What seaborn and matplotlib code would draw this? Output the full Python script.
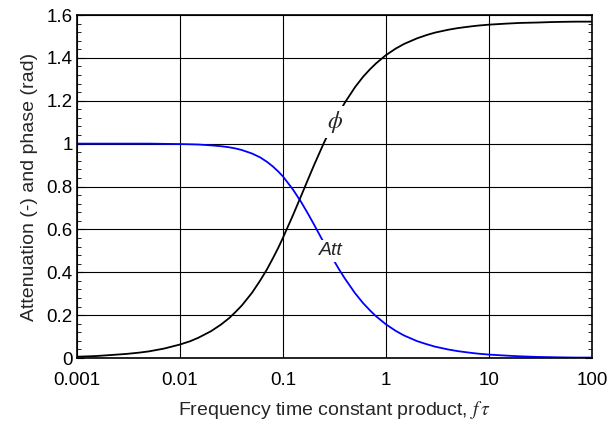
import numpy as np
import pandas as pd
import matplotlib
matplotlib.use('Agg')
import matplotlib.pyplot as plt
import seaborn as sns
from matplotlib.ticker import FixedLocator, MultipleLocator, NullLocator

# values
ftau = [0.001, 0.0015, 0.002, 0.003, 0.004, 0.005, 0.007,
        0.01, 0.0125, 0.015, 0.02, 0.025, 0.03, 0.035, 0.04, 0.05, 0.06, 0.07, 0.08, 0.09,
        0.1, 0.125, 0.15, 0.175, 0.2, 0.25, 0.3, 0.35, 0.4, 0.5, 0.6, 0.7, 0.8,
        1, 1.25, 1.5, 2, 2.5, 3, 4, 5, 6, 7, 8,
        10, 15, 20, 30, 40, 50, 70, 100]
phase = [0.006, 0.009, 0.013, 0.019, 0.025, 0.031, 0.044,
         0.063, 0.078, 0.094, 0.125, 0.156, 0.186, 0.217, 0.246, 0.304, 0.361, 0.414, 0.466, 0.514,
         0.561, 0.666, 0.756, 0.833, 0.899, 1.004, 1.083, 1.144, 1.192, 1.263, 1.312, 1.347, 1.374,
         1.413, 1.444, 1.465, 1.491, 1.507, 1.518, 1.531, 1.539, 1.544, 1.548, 1.551,
         1.555, 1.560, 1.563, 1.565, 1.567, 1.568, 1.569, 1.569]
att = [1.000, 1.000, 1.000, 1.000, 1.000, 1.000, 0.999,
       0.998, 0.997, 0.996, 0.992, 0.988, 0.983, 0.977, 0.970, 0.954, 0.936, 0.915, 0.893, 0.870,
       0.847, 0.786, 0.728, 0.673, 0.623, 0.537, 0.469, 0.414, 0.370, 0.303, 0.256, 0.222, 0.195,
       0.157, 0.126, 0.105, 0.079, 0.064, 0.053, 0.040, 0.032, 0.027, 0.023, 0.020,
       0.016, 0.011, 0.008, 0.005, 0.004, 0.003, 0.002, 0.002]

x_ticks = [0.001, 0.01, 0.1, 1, 10, 100]
x_ticklabels = ['0.001', '0.01', '0.1', '1', '10', '100']
y_ticks = [0, 0.2, 0.4, 0.6, 0.8, 1, 1.2, 1.4, 1.6]
y_ticklabels = ['0', '0.2', '0.4', '0.6', '0.8', '1', '1.2', '1.4', '1.6']

df = pd.DataFrame({'ftau': ftau, 'phase': phase, 'att': att})

sns.set_style('ticks')
plt.rcParams['font.family'] = ['Liberation Sans', 'DejaVu Sans']
plt.rcParams['mathtext.fontset'] = 'stix'

fig = plt.figure(figsize=(6.09, 4.25), dpi=100)
ax = fig.add_axes([0.1264, 0.1576, 0.8456, 0.8071])

sns.lineplot(data=df, x='ftau', y='att', color='#0000ff', lw=1.3, ax=ax)
sns.lineplot(data=df, x='ftau', y='phase', color='black', lw=1.3, ax=ax)

ax.set_xscale('log')
ax.set_xlim(0.001, 100)
ax.set_ylim(0, 1.6)

ax.xaxis.set_major_locator(FixedLocator(x_ticks))
ax.set_xticklabels(x_ticklabels)
ax.xaxis.set_minor_locator(NullLocator())
ax.yaxis.set_major_locator(FixedLocator(y_ticks))
ax.set_yticklabels(y_ticklabels)
ax.yaxis.set_minor_locator(MultipleLocator(0.04))

ax.tick_params(axis='both', which='both', direction='in', labelsize=13.5,
               colors='black', right=True)
ax.tick_params(axis='x', which='major', length=0, pad=10)
ax.tick_params(axis='y', which='major', length=5, pad=3)
ax.tick_params(axis='y', which='minor', length=3)

ax.grid(True, which='major', color='black', lw=0.8)
for s in ax.spines.values():
    s.set_color('black')
    s.set_linewidth(1.2)

ax.set_xlabel(r'Frequency time constant product, $f\,\tau$', fontsize=14, labelpad=7)
ax.set_ylabel('Attenuation (-) and phase (rad)', fontsize=14, labelpad=6)

# curve labels, drawn on the curves with a gap
box = dict(facecolor='white', edgecolor='none', pad=2)
ax.text(0.32, 1.10, r'$\phi$', fontsize=17, ha='center', va='center',
        bbox=box, zorder=5)
ax.text(0.29, 0.50, 'Att', fontsize=14, style='italic', ha='center', va='center',
        bbox=box, zorder=5)

fig.savefig('out.png', dpi=100)
